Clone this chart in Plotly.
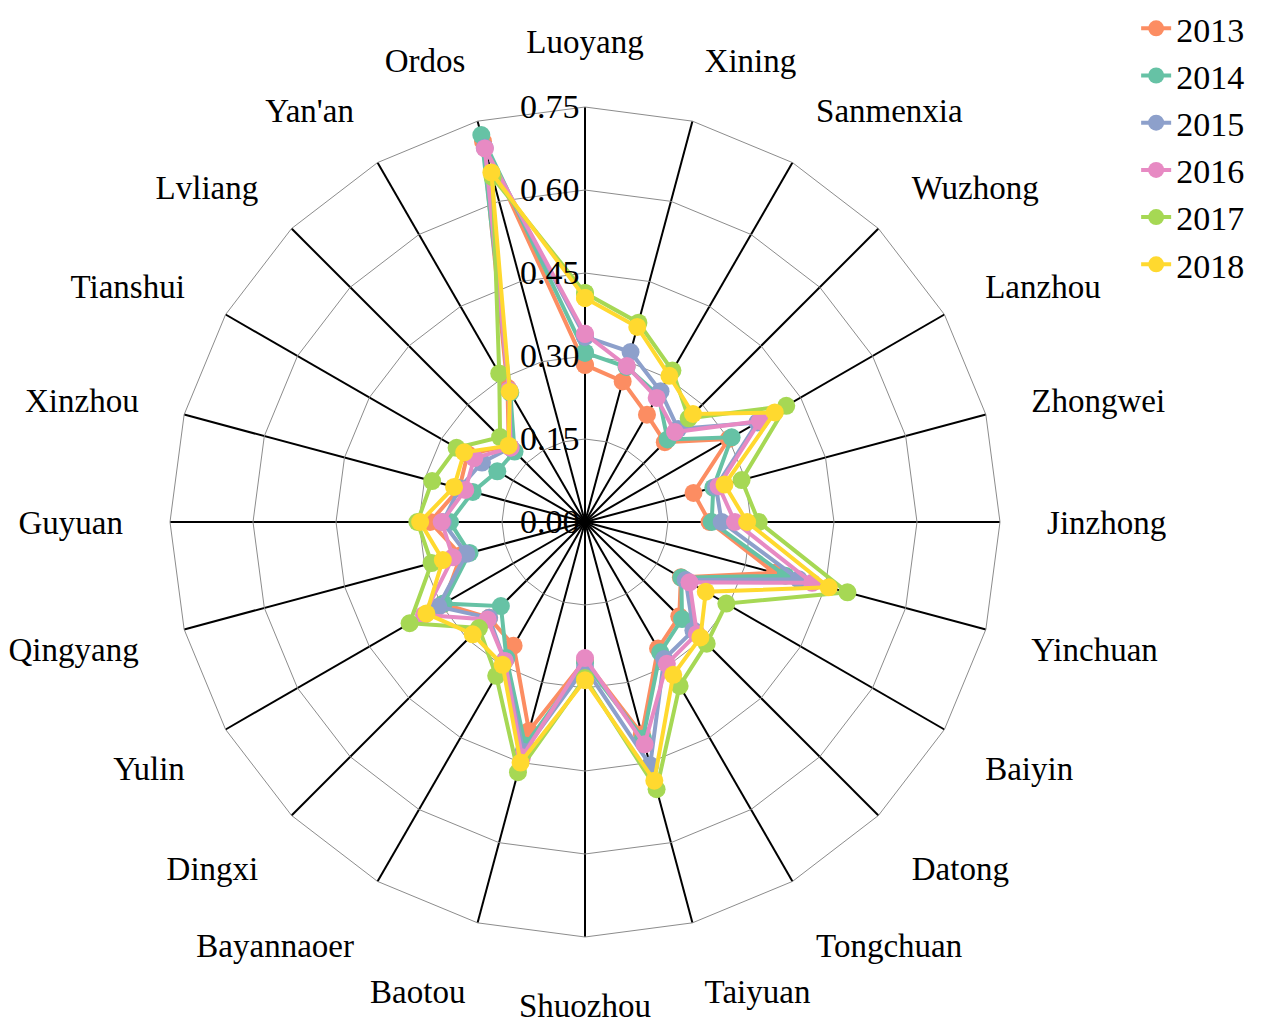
import plotly.graph_objects as go

cities = ["Luoyang", "Xining", "Sanmenxia", "Wuzhong", "Lanzhou", "Zhongwei", "Jinzhong",
          "Yinchuan", "Baiyin", "Datong", "Tongchuan", "Taiyuan", "Shuozhou", "Baotou",
          "Bayannaoer", "Dingxi", "Yulin", "Qingyang", "Guyuan", "Xinzhou", "Tianshui",
          "Lvliang", "Yan'an", "Ordos"]

v2013 = [0.284, 0.263, 0.224, 0.204, 0.300, 0.203, 0.225, 0.355, 0.200, 0.241, 0.264, 0.397,
         0.250, 0.391, 0.258, 0.245, 0.296, 0.232, 0.280, 0.235, 0.245, 0.195, 0.280, 0.712]
v2014 = [0.306, 0.290, 0.265, 0.211, 0.306, 0.240, 0.229, 0.375, 0.201, 0.248, 0.272, 0.405,
         0.255, 0.418, 0.284, 0.215, 0.295, 0.216, 0.244, 0.210, 0.183, 0.180, 0.270, 0.724]
v2015 = [0.335, 0.318, 0.273, 0.238, 0.360, 0.245, 0.247, 0.400, 0.210, 0.277, 0.286, 0.455,
         0.263, 0.430, 0.290, 0.245, 0.306, 0.222, 0.257, 0.235, 0.215, 0.190, 0.275, 0.700]
v2016 = [0.340, 0.292, 0.259, 0.230, 0.365, 0.250, 0.271, 0.425, 0.218, 0.286, 0.296, 0.416,
         0.246, 0.440, 0.290, 0.249, 0.336, 0.247, 0.259, 0.224, 0.231, 0.190, 0.275, 0.699]
v2017 = [0.414, 0.373, 0.316, 0.265, 0.420, 0.293, 0.314, 0.491, 0.295, 0.311, 0.342, 0.500,
         0.282, 0.468, 0.321, 0.271, 0.366, 0.287, 0.303, 0.286, 0.268, 0.217, 0.310, 0.645]
v2018 = [0.405, 0.365, 0.305, 0.276, 0.396, 0.261, 0.293, 0.456, 0.252, 0.295, 0.319, 0.484,
         0.286, 0.450, 0.298, 0.287, 0.331, 0.266, 0.298, 0.245, 0.252, 0.195, 0.272, 0.654]

years = ["2013", "2014", "2015", "2016", "2017", "2018"]
series = [v2013, v2014, v2015, v2016, v2017, v2018]
colors = ["#fc8d62", "#66c2a5", "#8da0cb", "#e78ac3", "#a6d854", "#ffd92f"]

radial_ticks = [0.0, 0.15, 0.30, 0.45, 0.60, 0.75]
radial_ticktext = ["0.00", "0.15", "0.30", "0.45", "0.60", "0.75"]

FONT = "Liberation Serif, Times New Roman, serif"

fig = go.Figure()
for name, vals, col in zip(years, series, colors):
    fig.add_trace(go.Scatterpolar(
        r=vals + vals[:1],
        theta=cities + cities[:1],
        mode="lines+markers",
        name=name,
        line=dict(color=col, width=4),
        marker=dict(color=col, size=18),
    ))

fig.update_layout(
    width=1269, height=1036,
    margin=dict(l=0, r=0, t=0, b=0, autoexpand=False),
    paper_bgcolor="white",
    plot_bgcolor="white",
    font=dict(family=FONT, color="black", size=33),
    showlegend=True,
    legend=dict(
        x=0.889, y=1.008, xanchor="left", yanchor="top",
        font=dict(family=FONT, size=34, color="black"),
        bgcolor="rgba(0,0,0,0)",
        tracegroupgap=0,
    ),
    polar=dict(
        domain=dict(x=[162 / 1269, 992 / 1269], y=[107 / 1036, 937 / 1036]),
        bgcolor="white",
        gridshape="linear",
        radialaxis=dict(
            range=[0, 0.75],
            tickvals=radial_ticks,
            ticktext=radial_ticktext,
            angle=90,
            tickangle=90,
            side="counterclockwise",
            showline=False,
            ticks="",
            gridcolor="#8c8c8c",
            gridwidth=1,
            tickfont=dict(family=FONT, size=34, color="black"),
        ),
        angularaxis=dict(
            type="category",
            categoryarray=cities,
            direction="clockwise",
            rotation=90,
            showline=True,
            linecolor="#8c8c8c",
            linewidth=1,
            gridcolor="black",
            gridwidth=2,
            ticks="outside",
            ticklen=40,
            tickcolor="rgba(0,0,0,0)",
            tickfont=dict(family=FONT, size=33, color="black"),
        ),
    ),
)

fig.write_html("out.html")
